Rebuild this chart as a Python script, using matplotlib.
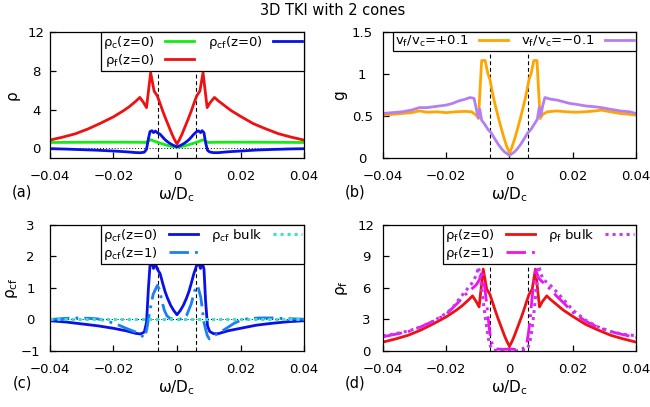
import matplotlib

matplotlib.use("Agg")
import matplotlib.pyplot as plt

matplotlib.rcParams.update(
    {
        "font.family": ["DejaVu Sans"],
        "mathtext.default": "regular",
        "font.size": 9.5,
        "axes.linewidth": 0.9,
        "xtick.direction": "in",
        "ytick.direction": "in",
        "xtick.major.size": 4,
        "ytick.major.size": 4,
        "xtick.major.width": 0.9,
        "ytick.major.width": 0.9,
    }
)

# ---- data ------------------------------------------------------------------
# rho_f(z=0): panels (a) and (d)
w_rf = [-0.040, -0.036, -0.032, -0.028, -0.024, -0.020, -0.017, -0.015, -0.013,
        -0.0117, -0.0105, -0.0096, -0.0083, -0.0072, -0.0062, -0.0053, -0.0045,
        -0.0035, -0.0025, -0.0015, -0.0007, 0.0, 0.0007, 0.0015, 0.0025, 0.0035,
        0.0045, 0.0053, 0.0062, 0.0072, 0.0082, 0.0095, 0.0104, 0.0118, 0.013,
        0.015, 0.017, 0.020, 0.024, 0.028, 0.032, 0.036, 0.040]
rho_f_z0 = [0.85, 1.15, 1.5, 2.0, 2.6, 3.25, 3.85, 4.3, 4.85,
            5.25, 4.7, 4.2, 7.8, 5.9, 5.4, 4.6, 3.85,
            3.0, 2.2, 1.4, 0.85, 0.45, 0.85, 1.4, 2.2, 3.0,
            3.85, 4.6, 5.4, 5.9, 7.8, 4.2, 4.7, 5.25, 4.9,
            4.4, 3.9, 3.3, 2.55, 2.0, 1.5, 1.15, 0.85]

# rho_c(z=0): panel (a)
w_rc = [-0.040, -0.030, -0.020, -0.012, -0.0098, -0.009, -0.0083, -0.0072, -0.006,
        -0.0045, -0.003, -0.0015, 0.0, 0.0015, 0.003, 0.0045, 0.006, 0.0072,
        0.0083, 0.009, 0.0098, 0.012, 0.020, 0.030, 0.040]
rho_c_z0 = [0.6, 0.62, 0.63, 0.62, 0.6, 0.75, 0.88, 0.75, 0.6,
            0.45, 0.3, 0.18, 0.1, 0.18, 0.3, 0.45, 0.6, 0.75,
            0.88, 0.75, 0.6, 0.62, 0.63, 0.62, 0.6]

# rho_cf(z=0): panels (a) and (c)
w_rcf = [-0.040, -0.035, -0.030, -0.025, -0.020, -0.016, -0.013, -0.0115, -0.0103,
         -0.0096, -0.009, -0.0085, -0.0079, -0.0074, -0.0068, -0.0062, -0.0053,
         -0.0045, -0.0038, -0.003, -0.002, -0.001, 0.0, 0.001, 0.002, 0.003,
         0.0038, 0.0045, 0.0053, 0.0062, 0.0068, 0.0074, 0.0079, 0.0085, 0.009,
         0.0096, 0.0103, 0.0115, 0.013, 0.016, 0.020, 0.025, 0.030, 0.035, 0.040]
rho_cf_z0 = [-0.04, -0.08, -0.14, -0.2, -0.28, -0.36, -0.44, -0.46, -0.4,
             -0.1, 1.0, 1.72, 1.82, 1.62, 1.78, 1.6, 1.45,
             1.15, 0.9, 0.68, 0.45, 0.28, 0.15, 0.28, 0.45, 0.68,
             0.9, 1.15, 1.45, 1.72, 1.8, 1.62, 1.82, 1.6, 0.6,
             -0.2, -0.38, -0.45, -0.45, -0.36, -0.28, -0.18, -0.12, -0.07, -0.04]

# rho_cf(z=1) and bulk: panel (c)
w_rcf1 = [-0.040, -0.036, -0.032, -0.028, -0.025, -0.022, -0.019, -0.016, -0.013,
          -0.011, -0.0102, -0.0095, -0.0085, -0.0075, -0.0062, -0.0055, -0.0048,
          -0.004, -0.0032, -0.0022, 0.0, 0.0022, 0.003, 0.0045, 0.0055, 0.0065,
          0.0075, 0.0085, 0.0095, 0.0102, 0.012, 0.014, 0.016, 0.018, 0.020,
          0.022, 0.026, 0.030, 0.034, 0.040]
rho_cf_z1 = [0.0, 0.03, 0.05, 0.04, 0.02, -0.05, -0.15, -0.28, -0.4,
             -0.52, -0.58, -0.3, 0.3, 0.8, 1.08, 0.95, 0.6,
             0.3, 0.12, 0.03, 0.0, 0.03, 0.12, 0.5, 0.9, 1.08,
             0.7, -0.1, -0.5, -0.62, -0.5, -0.38, -0.25, -0.12, -0.03,
             0.02, 0.05, 0.05, 0.03, 0.01]
w_bulk = [-0.040, -0.020, 0.0, 0.020, 0.040]
rho_cf_bulk = [0.0, 0.0, 0.0, 0.0, 0.0]

# rho_f(z=1) and bulk: panel (d)
w_rf1 = [-0.040, -0.036, -0.032, -0.028, -0.024, -0.020, -0.0163, -0.0142, -0.012,
         -0.0105, -0.0095, -0.0086, -0.0078, -0.0072, -0.0066, -0.0062, -0.0056,
         -0.005, -0.004, -0.002, 0.0, 0.002, 0.004, 0.005, 0.0055, 0.006, 0.0065,
         0.007, 0.0076, 0.0083, 0.0093, 0.0107, 0.0125, 0.015, 0.0174, 0.020,
         0.024, 0.028, 0.032, 0.036, 0.040]
rho_f_z1 = [1.35, 1.6, 1.85, 2.3, 2.85, 3.5, 4.6, 5.3, 5.9,
            6.3, 6.8, 7.7, 6.0, 4.5, 2.8, 1.7, 0.8,
            0.4, 0.2, 0.15, 0.2, 0.15, 0.2, 0.4, 0.8, 1.7, 2.9,
            4.6, 6.3, 7.7, 6.9, 6.5, 6.0, 5.2, 4.5, 3.7,
            2.85, 2.25, 1.85, 1.55, 1.3]
w_rfb = [-0.040, -0.036, -0.032, -0.028, -0.024, -0.020, -0.018, -0.0163, -0.0142,
         -0.012, -0.0105, -0.0098, -0.0092, -0.0085, -0.0077, -0.007, -0.0064,
         -0.0057, -0.005, -0.003, 0.0, 0.003, 0.005, 0.0057, 0.0064, 0.007, 0.0077,
         0.0085, 0.0093, 0.010, 0.0107, 0.012, 0.0135, 0.015, 0.0174, 0.020,
         0.024, 0.028, 0.032, 0.036, 0.040]
rho_f_bulk = [1.45, 1.65, 1.9, 2.3, 2.85, 3.6, 4.1, 4.8, 5.6,
              6.4, 7.2, 8.0, 7.0, 5.2, 3.3, 1.8, 0.75,
              0.25, 0.08, 0.03, 0.02, 0.03, 0.08, 0.25, 0.75, 1.8, 3.5,
              6.0, 8.1, 7.3, 6.8, 6.5, 6.1, 5.6, 4.8, 3.9,
              2.95, 2.3, 1.85, 1.6, 1.45]

# g: panel (b)
w_gp = [-0.040, -0.037, -0.034, -0.031, -0.0285, -0.026, -0.023, -0.020, -0.017,
        -0.014, -0.012, -0.0105, -0.0098, -0.0088, -0.0077, -0.0068, -0.0062,
        -0.0055, -0.0047, -0.0035, -0.0025, -0.0015, -0.0007, 0.0, 0.0007, 0.0015,
        0.0025, 0.0035, 0.0047, 0.0055, 0.0062, 0.0068, 0.0077, 0.0087, 0.0097,
        0.0105, 0.012, 0.015, 0.018, 0.021, 0.024, 0.027, 0.029, 0.032, 0.035,
        0.038, 0.040]
g_plus = [0.51, 0.52, 0.53, 0.54, 0.56, 0.545, 0.55, 0.54, 0.55,
          0.555, 0.55, 0.51, 0.47, 1.16, 1.16, 1.0, 0.94,
          0.8, 0.66, 0.48, 0.34, 0.21, 0.12, 0.06, 0.12, 0.21,
          0.34, 0.48, 0.66, 0.8, 0.94, 1.0, 1.16, 1.16, 0.47,
          0.52, 0.55, 0.56, 0.55, 0.545, 0.55, 0.56, 0.57, 0.55, 0.53,
          0.52, 0.51]
w_gm = [-0.040, -0.037, -0.034, -0.031, -0.0285, -0.026, -0.023, -0.020, -0.018,
        -0.016, -0.014, -0.0125, -0.0112, -0.0103, -0.0098, -0.0094, -0.0088,
        -0.0078, -0.0068, -0.0058, -0.0045, -0.0035, -0.0025, -0.0015, -0.0007,
        0.0, 0.0007, 0.0015, 0.0025, 0.0035, 0.0045, 0.0058, 0.0068, 0.0078,
        0.0088, 0.0094, 0.0099, 0.0105, 0.0112, 0.013, 0.015, 0.017, 0.019,
        0.021, 0.024, 0.027, 0.029, 0.032, 0.035, 0.038, 0.040]
g_minus = [0.53, 0.54, 0.55, 0.57, 0.6, 0.6, 0.615, 0.63, 0.65,
           0.68, 0.7, 0.72, 0.71, 0.55, 0.48, 0.58, 0.45,
           0.4, 0.34, 0.3, 0.22, 0.16, 0.11, 0.07, 0.05,
           0.03, 0.05, 0.07, 0.11, 0.16, 0.22, 0.3, 0.34, 0.4,
           0.46, 0.6, 0.5, 0.62, 0.72, 0.7, 0.69, 0.67, 0.65,
           0.64, 0.62, 0.61, 0.6, 0.58, 0.56, 0.55, 0.53]

cone_edges = [-0.006, 0.006]

x_ticks = [-0.04, -0.02, 0.0, 0.02, 0.04]
x_tick_labels = ["\u22120.04", "\u22120.02", "0", "0.02", "0.04"]
yticks_a = [0, 4, 8, 12]
yticks_b = [0, 0.5, 1, 1.5]
ytick_labels_b = ["0", "0.5", "1", "1.5"]
yticks_c = [-1, 0, 1, 2, 3]
ytick_labels_c = ["\u22121", "0", "1", "2", "3"]
yticks_d = [0, 3, 6, 9, 12]

COLORS = {
    "green": "#11ee11",
    "red": "#ee1111",
    "blue": "#0a10e8",
    "dodger": "#1c7ef0",
    "turq": "#2ee8cc",
    "orange": "#ffa500",
    "lilac": "#b47ff0",
    "magenta": "#f010f0",
    "violet": "#c03cf0",
}
DASHDOT = (0, (7, 2.2, 1.0, 2.2))
DOTS = (0, (1.0, 1.3))


def _frame(ax, ylim, yticks, ylabels, ypad, ylabel, ylabel_x):
    ax.set_xlim(-0.04, 0.04)
    ax.set_ylim(*ylim)
    ax.set_xticks(x_ticks)
    ax.set_xticklabels(x_tick_labels)
    ax.set_yticks(yticks)
    ax.set_yticklabels(ylabels)
    ax.tick_params(axis="x", pad=9, labelsize=9.5)
    ax.tick_params(axis="y", pad=ypad, labelsize=9.5)
    for t in ax.get_yticklabels():
        t.set_ha("center")
    ax.set_xlabel("$ω/D_c$", fontsize=11, labelpad=1)
    ax.set_ylabel(ylabel, fontsize=11)
    ax.yaxis.set_label_coords(ylabel_x, 0.5)
    for xv in cone_edges:
        ax.axvline(xv, color="black", ls=(0, (3.5, 2.5)), lw=0.8, zorder=1)


def _legend(ax):
    leg = ax.legend(
        loc="upper right",
        ncol=2,
        markerfirst=False,
        fontsize=9.5,
        borderaxespad=0,
        fancybox=False,
        framealpha=1,
        edgecolor="black",
        handlelength=2.2,
        handletextpad=0.8,
        columnspacing=1.0,
        labelspacing=0.05,
        borderpad=0.15,
    )
    leg.get_frame().set_linewidth(0.9)
    return leg


def main():
    fig = plt.figure(figsize=(6.5, 4.07), dpi=100)
    ax_a = fig.add_axes([0.0769, 0.6118, 0.3908, 0.3096])
    ax_b = fig.add_axes([0.5892, 0.6118, 0.3892, 0.3096])
    ax_c = fig.add_axes([0.0769, 0.1376, 0.3908, 0.3096])
    ax_d = fig.add_axes([0.5892, 0.1376, 0.3892, 0.3096])

    # (a)
    ax = ax_a
    _frame(ax, (-1, 12), yticks_a, [str(v) for v in yticks_a], 10, "ρ", -0.12)
    ax.axhline(0, color="black", ls=(0, (1, 2)), lw=0.7, zorder=1)
    ax.plot(w_rc, rho_c_z0, color=COLORS["green"], lw=2, label="$ρ_c$(z=0)")
    ax.plot(w_rf, rho_f_z0, color=COLORS["red"], lw=2, label="$ρ_f$(z=0)")
    ax.plot(w_rcf, rho_cf_z0, color=COLORS["blue"], lw=2, label="$ρ_{cf}$(z=0)")
    _legend(ax)

    # (b)
    ax = ax_b
    _frame(ax, (0, 1.5), yticks_b, ytick_labels_b, 15, "g", -0.14)
    ax.plot(w_gp, g_plus, color=COLORS["orange"], lw=2, label="$v_f/v_c$=+0.1")
    ax.plot(w_gm, g_minus, color=COLORS["lilac"], lw=2, label="$v_f/v_c$=\u22120.1")
    _legend(ax)

    # (c)
    ax = ax_c
    _frame(ax, (-1, 3), yticks_c, ytick_labels_c, 14, "$ρ_{cf}$", -0.12)
    ax.axhline(0, color="black", ls=(0, (1, 2)), lw=0.7, zorder=1)
    ax.plot(w_rcf, rho_cf_z0, color=COLORS["blue"], lw=2, label="$ρ_{cf}$(z=0)")
    ax.plot(w_rcf1, rho_cf_z1, color=COLORS["dodger"], lw=2, ls=DASHDOT, label="$ρ_{cf}$(z=1)")
    ax.plot(w_bulk, rho_cf_bulk, color=COLORS["turq"], lw=2.2, ls=DOTS, label="$ρ_{cf}$ bulk")
    _legend(ax)

    # (d)
    ax = ax_d
    _frame(ax, (0, 12), yticks_d, [str(v) for v in yticks_d], 12, "$ρ_f$", -0.13)
    ax.plot(w_rf, rho_f_z0, color=COLORS["red"], lw=2, label="$ρ_f$(z=0)")
    ax.plot(w_rf1, rho_f_z1, color=COLORS["magenta"], lw=2, ls=DASHDOT, label="$ρ_f$(z=1)")
    ax.plot(w_rfb, rho_f_bulk, color=COLORS["violet"], lw=2.2, ls=DOTS, label="$ρ_f$ bulk")
    _legend(ax)

    for lab, x, y in [("(a)", 0.034, 0.528), ("(b)", 0.546, 0.528),
                      ("(c)", 0.034, 0.059), ("(d)", 0.546, 0.059)]:
        fig.text(x, y, lab, ha="center", va="center", fontsize=10.5)
    fig.text(0.512, 0.975, "3D TKI with 2 cones", ha="center", va="center", fontsize=10.5)

    fig.savefig("out.png", dpi=100)
    plt.close(fig)


if __name__ == "__main__":
    main()
